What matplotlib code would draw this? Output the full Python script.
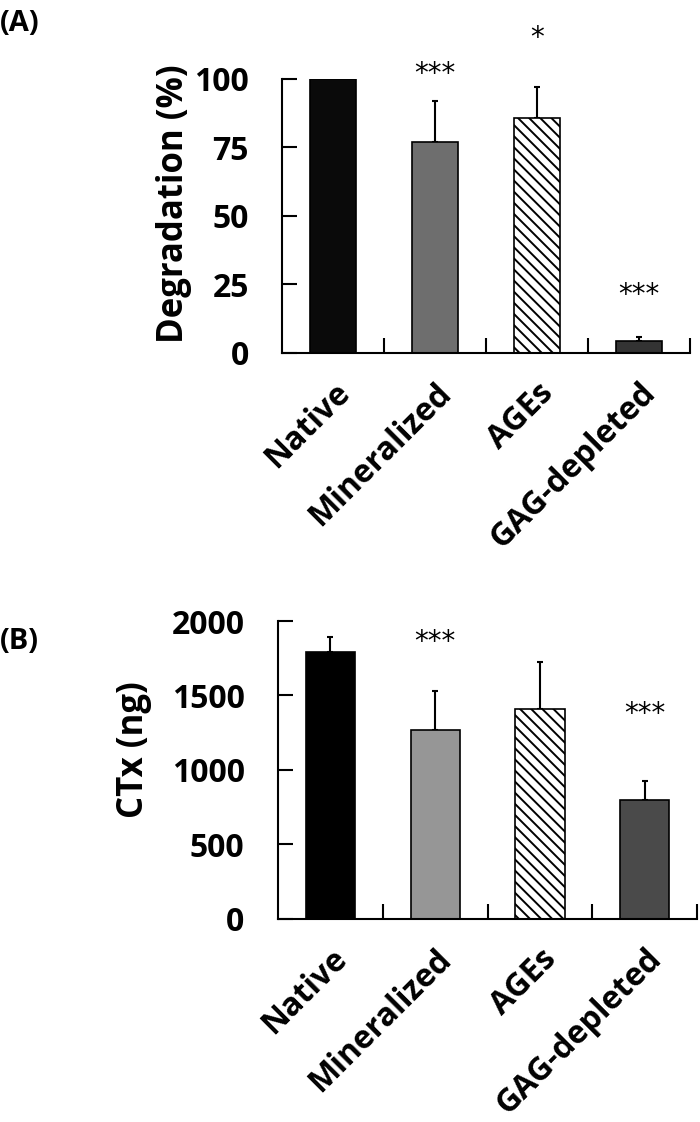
import numpy as np
import matplotlib
matplotlib.use("Agg")
import matplotlib.pyplot as plt

plt.rcParams['font.family'] = ['Open Sans', 'DejaVu Sans']
plt.rcParams['hatch.linewidth'] = 1.4

# data
groups = ['Native', 'Mineralized', 'AGEs', 'GAG-depleted']

degr_mean = [100, 77, 85.6, 4.3]
degr_err = [0, 15, 11.6, 1.6]
degr_sig = ['', '***', '*', '***']
degr_sig_y = [0, 102, 115, 21]

ctx_mean = [1795, 1268, 1409, 799]
ctx_err = [95, 264, 316, 129]
ctx_sig = ['', '***', '', '***']
ctx_sig_y = [0, 1860, 0, 1375]

colors_a = ['#0a0a0a', '#6e6e6e', 'white', '#333333']
colors_b = ['#000000', '#969696', 'white', '#4a4a4a']
hatches = ['', '', '\\\\\\', '']


def panel(ax, means, errs, colors, sig, sig_y, ymax, yticks, ylabel, width,
          label_xy):
    x = np.arange(len(groups))
    bars = ax.bar(x, means, width=width, color=colors, edgecolor='black',
                  linewidth=1.2, zorder=2)
    for b, h in zip(bars, hatches):
        b.set_hatch(h)
    ax.errorbar(x, means, yerr=[np.zeros(len(errs)), errs], fmt='none',
                ecolor='black', elinewidth=1.5, capsize=2.5, capthick=1.5,
                zorder=1)
    for xi, s, yy in zip(x, sig, sig_y):
        if s:
            ax.text(xi, yy, s, ha='center', va='center', fontsize=20,
                    family='DejaVu Sans', clip_on=False)
    ax.set_xlim(-0.5, 3.5)
    ax.set_ylim(0, ymax)
    ax.set_yticks(yticks)
    ax.set_yticklabels([str(t) for t in yticks], fontsize=23, fontweight='bold')
    ax.set_xticks(x)
    ax.set_xticklabels(groups, rotation=45, ha='right', rotation_mode='anchor',
                       fontsize=23, fontweight='bold')
    ax.set_xticks([0.5, 1.5, 2.5, 3.5], minor=True)
    ax.tick_params(axis='x', which='major', length=0, pad=17)
    ax.tick_params(axis='x', which='minor', direction='in', length=11,
                   width=1.5)
    ax.tick_params(axis='y', direction='in', length=11, width=1.5, pad=24)
    ax.spines['top'].set_visible(False)
    ax.spines['right'].set_visible(False)
    ax.spines['left'].set_linewidth(1.5)
    ax.spines['bottom'].set_linewidth(1.5)
    ax.set_ylabel(ylabel, fontsize=25, fontweight='bold')
    ax.yaxis.set_label_coords(*label_xy)


fig = plt.figure(figsize=(7, 11.22), dpi=100)
ax1 = fig.add_axes([0.403, 0.6854, 0.583, 0.2442])
ax2 = fig.add_axes([0.397, 0.181, 0.599, 0.2655])

panel(ax1, degr_mean, degr_err, colors_a, degr_sig, degr_sig_y, 100,
      [0, 25, 50, 75, 100], 'Degradation (%)', 0.45, (-0.22, 0.546))
panel(ax2, ctx_mean, ctx_err, colors_b, ctx_sig, ctx_sig_y, 2000,
      [0, 500, 1000, 1500, 2000], 'CTx (ng)', 0.47, (-0.30, 0.567))

fig.text(0.0, 0.979, '(A)', fontsize=21, fontweight='bold', va='center')
fig.text(0.0, 0.428, '(B)', fontsize=21, fontweight='bold', va='center')

fig.savefig('out.png', dpi=100)
